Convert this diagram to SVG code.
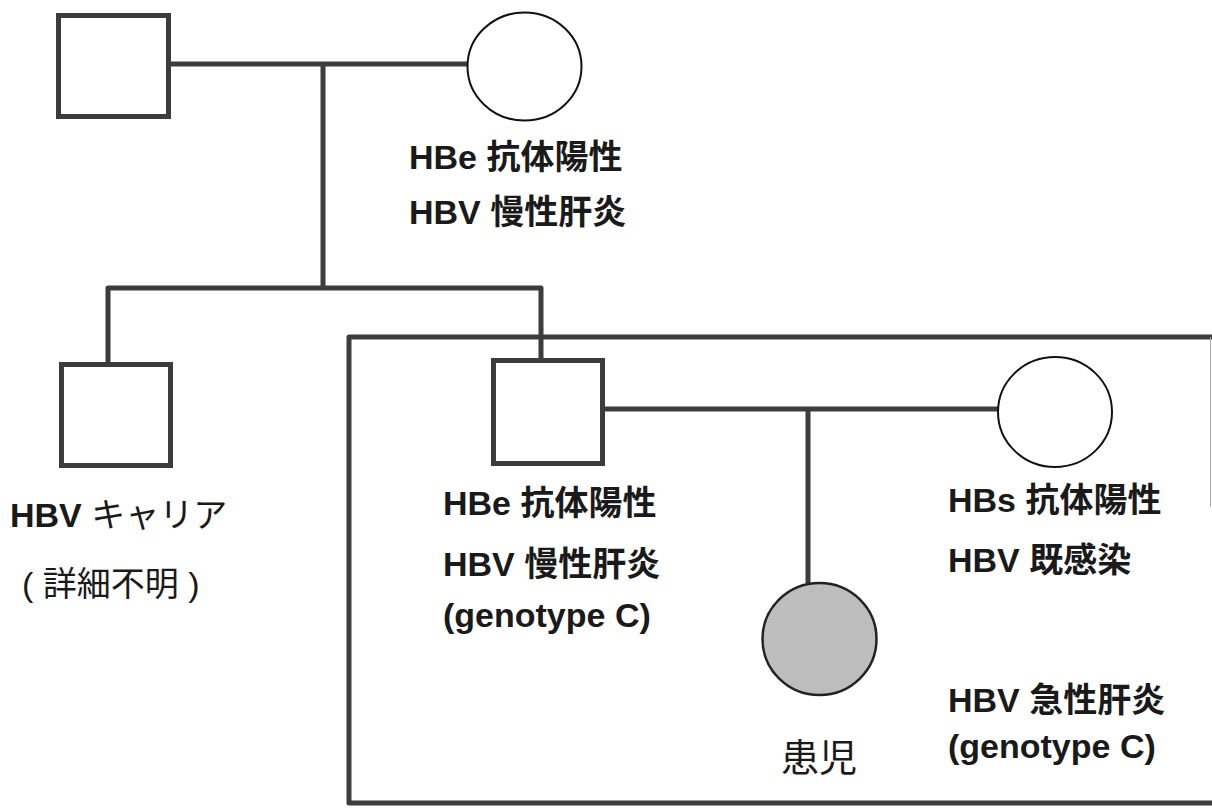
<svg xmlns="http://www.w3.org/2000/svg" width="1212" height="809" viewBox="0 0 1212 809">
<style>
.sq{fill:#fff;stroke:#3c3c3c;stroke-width:5}
.ci{fill:#fff;stroke:#111;stroke-width:2}
.pt{fill:#bdbdbd;stroke:#222;stroke-width:2.5}
.ln{fill:none;stroke:#3c3c3c;stroke-width:5;stroke-linejoin:round}
.t{font-family:"Liberation Sans","Noto Sans CJK JP",sans-serif;font-size:34px;font-weight:bold;fill:#1a1a1a}
.r{font-weight:normal}
</style>
<rect width="1212" height="809" fill="#fff"/>
<g id="nuclear-family-box">
<path class="ln" d="M1216,337 H349 V803 H1216"/>
<line x1="1210.5" y1="337" x2="1210.5" y2="507" stroke="#aaa" stroke-width="1"/>
</g>
<g id="connectors">
<path class="ln" d="M171,64 H467"/>
<path class="ln" d="M323,64 V288"/>
<path class="ln" d="M108,362 V288 H541 V358"/>
<path class="ln" d="M605,409 H998"/>
<path class="ln" d="M808,409 V583"/>
</g>
<g id="grandfather"><rect class="sq" x="58.5" y="15.5" width="110" height="101"/></g>
<g id="grandmother">
<ellipse class="ci" cx="524.5" cy="66.5" rx="57" ry="54"/>
<text class="t" x="409" y="169">HBe 抗体陽性</text>
<text class="t" x="409" y="224">HBV 慢性肝炎</text>
</g>
<g id="uncle">
<rect class="sq" x="61.5" y="364.5" width="109" height="101"/>
<text class="t" x="10" y="527">HBV <tspan class="r">キャリア</tspan></text>
<text class="t r" x="22" y="596">( 詳細不明 )</text>
</g>
<g id="father">
<rect class="sq" x="493.5" y="360.5" width="109" height="103"/>
<text class="t" x="443" y="515">HBe 抗体陽性</text>
<text class="t" x="443" y="576">HBV 慢性肝炎</text>
<text class="t" x="443" y="627">(genotype C)</text>
</g>
<g id="mother">
<ellipse class="ci" cx="1055" cy="412" rx="57" ry="55"/>
<text class="t" x="948" y="512">HBs 抗体陽性</text>
<text class="t" x="948" y="572">HBV 既感染</text>
</g>
<g id="patient">
<ellipse class="pt" cx="819.5" cy="639" rx="57" ry="56"/>
<text class="t r" x="781" y="771" style="font-size:38px">患児</text>
<text class="t" x="948" y="712">HBV 急性肝炎</text>
<text class="t" x="948" y="758">(genotype C)</text>
</g>
</svg>
